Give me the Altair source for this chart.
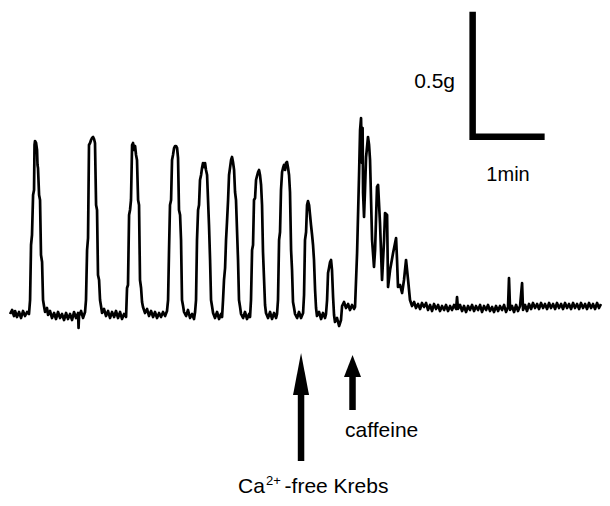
import altair as alt
import pandas as pd

# ---- Isometric tension trace (time in s, tension in mg above baseline) ----
# control spontaneous contractions
c1_t = [0, 1.7, 3.3, 4.2, 5.8, 7.5, 9.2, 10.8, 12.5, 14.2, 15.8, 16.7, 17.5, 18.3, 19.2, 20, 20.4, 20.8, 21.7, 22.5, 22.9, 23.3, 24.2, 25, 25.8, 26.7, 27.5, 28.3]
c1_mg = [-4, 12, -12, 8, -16, 4, -20, 8, -12, 4, -4, 52, 272, 312, 472, 492, 672, 688, 680, 652, 592, 580, 472, 452, 232, 204, 52, 28]

c2_t = [29.2, 30.8, 31.7, 33.3, 35, 36.7, 38.3, 40, 41.7, 43.3, 45, 46.7, 48.3, 50, 51.7, 53.3, 55, 56.7, 57.1, 57.5, 59.2, 60.8, 62.5,
        63.3, 64.2, 65, 65.8, 66.7, 67.5, 68.3, 69.2, 70, 70.8, 71.7, 72.5, 73.3, 74.2, 75, 75.8]
c2_mg = [4, 20, -8, 8, -20, 0, -24, 4, -20, -4, -28, 0, -24, -4, -28, 4, -20, 0, -60, -12, 8, -20, 4,
         52, 252, 300, 672, 680, 692, 700, 704, 696, 680, 432, 412, 152, 132, 52, 28]

c3_t = [76.7, 78.3, 80, 81.7, 83.3, 85, 86.7, 88.3, 90, 91.7, 93.3, 95, 96.7,
        97.5, 98.3, 99.2, 100, 100.8, 101.7, 102.5, 103.3, 104.2, 105, 105.8, 106.7, 107.5, 108.3, 109.2, 110, 110.8]
c3_mg = [0, 16, -12, 8, -20, 4, -16, 8, -20, 4, -24, -4, -16,
         100, 112, 392, 412, 452, 672, 680, 652, 668, 632, 612, 452, 432, 132, 100, 44, 24]

c4_t = [112.5, 114.2, 115.8, 117.5, 119.2, 120.8, 122.5, 124.2, 125.8, 127.5, 129.2, 130.8,
        131.7, 132.5, 133.3, 134.2, 135, 135.8, 136.7, 137.5, 138.3, 139.2, 140, 140.8, 141.7, 142.5, 143.3, 144.2]
c4_mg = [0, 16, -12, 8, -16, 4, -20, 0, -16, 4, -12, 8,
         52, 252, 432, 452, 612, 632, 660, 668, 668, 660, 620, 412, 392, 292, 52, 28]

c5_t = [145, 146.7, 148.3, 150, 151.7, 153.3, 154.2,
        155, 155.8, 156.7, 157.5, 158.3, 159.2, 160, 160.8, 161.7, 162.5, 163.3, 164.2, 165, 165.8, 166.7, 167.5, 168.3]
c5_mg = [4, -12, 12, -20, -4, -24, 4,
         52, 292, 412, 432, 532, 552, 580, 600, 584, 600, 572, 552, 452, 352, 212, 52, 28]

c6_t = [169.2, 170.8, 172.5, 174.2, 175.8, 176.7,
        177.5, 178.3, 179.2, 180, 180.8, 181.7, 182.5, 183.3, 184.2, 185, 185.8, 186.7, 187.5, 188.3, 189.2, 190, 190.8, 191.7]
c6_mg = [0, -20, 4, -24, -4, -16,
         52, 132, 180, 292, 364, 452, 552, 580, 612, 624, 604, 572, 484, 452, 324, 212, 52, 24]

c7_t = [192.5, 194.2, 195.8, 197.5, 199.2, 200,
        200.8, 201.7, 202.5, 203.3, 204.2, 205, 205.8, 206.7, 207.5, 208.3, 209.2, 210, 210.8, 211.7, 212.5]
c7_mg = [-4, -20, 4, -24, -4, -16,
         52, 252, 272, 452, 460, 532, 548, 564, 572, 552, 512, 432, 244, 132, 32]

c8_t = [213.3, 215, 216.7, 218.3, 220, 221.7, 222.5,
        223.3, 224.2, 225, 225.8, 226.7, 227.5, 228.3, 229.2, 230, 230.8, 231.7, 232.5, 233.3, 234.2, 235, 235.8, 236.7]
c8_mg = [0, -20, 4, -24, 0, -20, -4,
         52, 292, 324, 492, 564, 580, 592, 572, 600, 604, 580, 552, 484, 252, 172, 44, 20]

# Ca2+-free Krebs
cf_t = [237.5, 239.2, 240.8, 242.5, 244.2,
        245, 245.8, 246.7, 247.5, 248.3, 249.2, 250, 250.8, 251.7, 252.5, 253.3, 254.2, 255,
        255.8, 257.5, 259.2, 260.8, 262.5, 263.3,
        264.2, 265, 265.8, 266.7, 267.5, 268.3, 269.2, 270,
        270.8, 272.5, 274.2, 275.8, 276.7, 278.3, 280, 281.7, 283.3, 285, 286.7]
cf_mg = [-4, -20, 4, -20, 0,
         72, 292, 324, 432, 448, 432, 392, 352, 312, 272, 212, 92, 20,
         -12, 4, -24, 0, -20, -4,
         52, 160, 180, 204, 212, 172, 64, -8,
         -36, -20, -52, -28, 28, 44, 20, 36, 12, 32, 16]

# caffeine response
caf_t = [287.5, 289.2, 290.8, 291.7, 292.5, 293.3, 293.8, 294.2, 295, 295.8, 296.7, 298.3, 299.2, 300, 301.7, 303.3,
         304.2, 305.8, 306.7, 308.3, 310, 311.7, 312.5, 314.2, 315, 316.7, 319.2, 321.7, 322.5, 323.3, 325, 326.7,
         328.3, 330, 331.7, 333.3]
caf_mg = [24, 240, 544, 732, 780, 600, 740, 480, 384, 492, 624, 704, 672, 612, 292, 184,
          252, 504, 512, 360, 132, 292, 400, 392, 104, 172, 240, 300, 212, 104, 112, 80,
          132, 212, 132, 52]

# after caffeine
w_t = [335, 336.7, 338.3, 340, 341.7, 343.3, 345, 346.7, 348.3, 350, 351.7, 353.3, 355, 356.7, 358.3, 360, 361.7,
       363.3, 365, 366.7, 368.3, 370, 371.7, 372.5, 373.3, 375, 376.7, 378.3, 380, 381.7, 383.3, 385, 386.7, 388.3,
       390, 391.7, 393.3, 395, 396.7, 398.3, 400, 401.7, 403.3, 405, 406.7, 408.3, 410, 411.7, 413.3, 415, 415.8,
       416.7, 418.3, 420, 421.7, 423.3, 425, 426.7, 427.5, 429.2, 430.8, 432.5, 434.2, 435.8, 437.5, 439.2, 440.8,
       442.5, 444.2, 445.8, 447.5, 449.2, 450.8, 452.5, 454.2, 455.8, 457.5, 459.2, 460.8, 462.5, 464.2, 465.8,
       467.5, 469.2, 470.8, 472.5, 474.2, 475.8, 477.5, 479.2, 480.8, 482.5, 484.2, 485.8, 487.5, 489.2, 490.8, 492.5]
w_mg = [28, 44, 20, 36, 16, 40, 24, 40, 12, 32, 8, 36, 16, 32, 8, 28, 12,
        32, 8, 28, 12, 32, 16, 64, 16, 32, 8, 28, 4, 28, 12, 32, 8, 28,
        12, 32, 4, 28, 12, 32, 8, 24, 4, 28, 8, 28, 12, 32, 4, 24, 140,
        12, 28, 4, 32, 8, 28, 120, 12, 32, 8, 36, 16, 40, 20, 36, 16,
        40, 20, 36, 16, 40, 20, 36, 16, 40, 20, 36, 16, 40, 20, 36,
        16, 40, 20, 36, 16, 40, 20, 36, 16, 40, 20, 36, 16, 40, 20, 36]

segments = [(c1_t, c1_mg), (c2_t, c2_mg), (c3_t, c3_mg), (c4_t, c4_mg), (c5_t, c5_mg),
            (c6_t, c6_mg), (c7_t, c7_mg), (c8_t, c8_mg), (cf_t, cf_mg), (caf_t, caf_mg), (w_t, w_mg)]
trace = pd.concat([pd.DataFrame({"t": a, "mg": b}) for a, b in segments], ignore_index=True)
trace["k"] = range(len(trace))

# ---- scale bar (0.5 g, 1 min) ----
bar_t = [385.5, 385.5, 445.5]
bar_mg = [1205, 705, 705]
bar = pd.DataFrame({"t": bar_t, "mg": bar_mg, "k": [0, 1, 2]})

# ---- drug application arrows ----
arrow_t = [242.5, 285.4]          # Ca2+-free Krebs, caffeine
shaft_top = [-270, -230]
shaft_bot = [-592, -388]
head_mg = [-244, -212]
head_shape = ["M0,-1L0.381,1L-0.381,1Z", "M0,-1L0.773,1L-0.773,1Z"]
head_area = [1764, 484]
arrows = pd.DataFrame({"t": arrow_t, "mg": shaft_top, "mg2": shaft_bot})
heads = pd.DataFrame({"t": arrow_t, "mg": head_mg, "shape": head_shape, "area": head_area})

# ---- labels ----
FONT = "Liberation Sans, Arial, sans-serif"
lab_left = pd.DataFrame({
    "t": [279.2, 190, 213.3, 228.8],
    "mg": [-496, -720, -688, -720],
    "text": ["caffeine", "Ca", "2+", "-free Krebs"],
    "fs": [21, 21, 13, 21],
})
lab_right = pd.DataFrame({"t": [370.8], "mg": [900], "text": ["0.5g"], "fs": [21]})
lab_center = pd.DataFrame({"t": [415], "mg": [528], "text": ["1min"], "fs": [20]})

xs = alt.Scale(domain=[-1.7, 493.3], nice=False, zero=False)
ys = alt.Scale(domain=[-740, 1220], nice=False, zero=False)
X = alt.X("t:Q", scale=xs, axis=None)
Y = alt.Y("mg:Q", scale=ys, axis=None)

line = alt.Chart(trace).mark_line(color="black", strokeWidth=2.7, strokeJoin="round").encode(
    x=X, y=Y, order="k:Q")
scalebar = alt.Chart(bar).mark_line(color="black", strokeWidth=6.5, strokeCap="butt", strokeJoin="miter").encode(
    x=X, y=Y, order="k:Q")
shafts = alt.Chart(arrows).mark_rule(color="black", strokeWidth=6.5).encode(x=X, y=Y, y2="mg2:Q")
tips = alt.Chart(heads).mark_point(filled=True, color="black", opacity=1, strokeWidth=0).encode(
    x=X, y=Y, shape=alt.Shape("shape:N", scale=None), size=alt.Size("area:Q", scale=None))


def labels(df, align):
    return alt.Chart(df).mark_text(align=align, baseline="alphabetic", font=FONT, color="black").encode(
        x=X, y=Y, text="text:N", size=alt.Size("fs:Q", scale=None))


chart = alt.layer(
    line, scalebar, shafts, tips,
    labels(lab_left, "left"), labels(lab_right, "right"), labels(lab_center, "center"),
).properties(
    width=594, height=490, padding=0, autosize=alt.AutoSizeParams(type="none"), background="white"
).configure_view(strokeWidth=0)

chart.save("out.html", embed_options={"renderer": "svg", "actions": False})
